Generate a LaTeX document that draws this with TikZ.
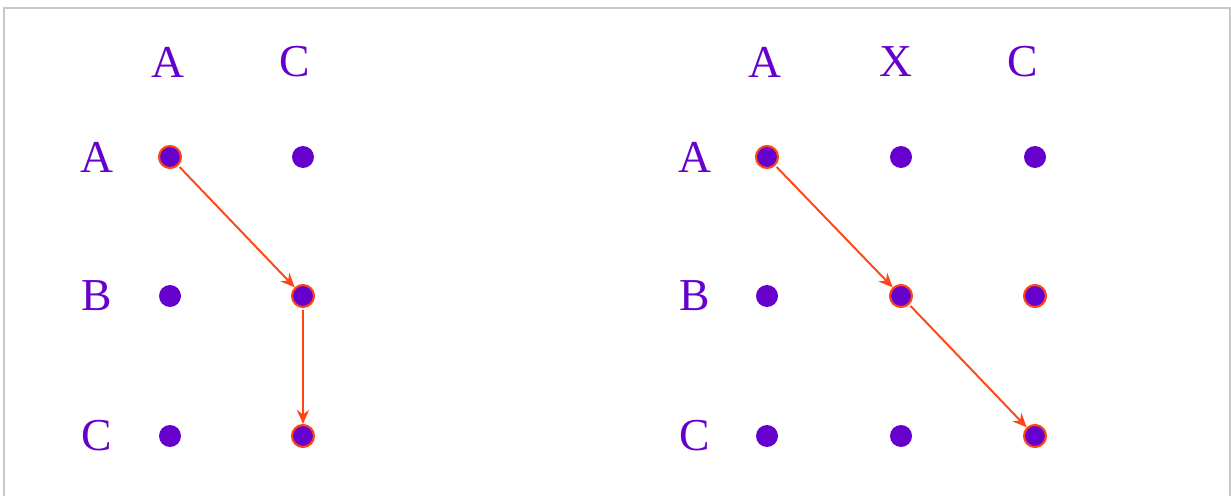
\documentclass[tikz,border=0pt]{standalone}
\usepackage{fontspec}
\setmainfont{Liberation Serif}
\definecolor{dotcol}{RGB}{102, 0, 204}
\definecolor{pathcol}{RGB}{255, 69, 20}
\definecolor{framecol}{RGB}{200, 200, 200}
\usetikzlibrary{arrows.meta, positioning}

\begin{document}
\begin{tikzpicture}[
        x=0.02cm, y=-0.02cm,
        lbl/.style={text=dotcol, font=\fontsize{26}{30}\selectfont, inner sep=0pt},
        pt/.style={circle, fill=dotcol, minimum size=0.44cm, inner sep=0pt},
        hit/.style={pt, draw=pathcol, line width=1.2pt},
        arr/.style={-{Stealth[length=8pt, width=7pt]}, pathcol, line width=1.1pt, shorten <=1pt}
    ]
    \useasboundingbox (0,0) rectangle (1231,496);
    \draw[framecol, line width=1pt] (4,496) -- (4,8) -- (1230,8) -- (1230,496);

    % left grid
    \node[lbl] (lcA) at (168,62) {A};
    \node[lbl] (lcC) at (295,62) {C};
    \node[lbl] (lrA) at (97,157) {A};
    \node[lbl] (lrB) at (97,296) {B};
    \node[lbl] (lrC) at (97,436) {C};
    \node[hit] (lAA) at (170,157) {};
    \node[pt]  (lAC) at (303,157) {};
    \node[pt]  (lBA) at (170,296) {};
    \node[hit] (lBC) at (303,296) {};
    \node[pt]  (lCA) at (170,436) {};
    \node[hit] (lCC) at (303,436) {};
    \draw[arr] (lAA) -- (lBC);
    \draw[arr] (lBC) -- (lCC);

    % right grid
    \node[lbl] (rcA) at (765,62) {A};
    \node[lbl] (rcX) at (896,62) {X};
    \node[lbl] (rcC) at (1023,62) {C};
    \node[lbl] (rrA) at (695,157) {A};
    \node[lbl] (rrB) at (695,296) {B};
    \node[lbl] (rrC) at (695,436) {C};
    \node[hit] (rAA) at (767,157) {};
    \node[pt]  (rAX) at (901,157) {};
    \node[pt]  (rAC) at (1035,157) {};
    \node[pt]  (rBA) at (767,296) {};
    \node[hit] (rBX) at (901,296) {};
    \node[hit] (rBC) at (1035,296) {};
    \node[pt]  (rCA) at (767,436) {};
    \node[pt]  (rCX) at (901,436) {};
    \node[hit] (rCC) at (1035,436) {};
    \draw[arr] (rAA) -- (rBX);
    \draw[arr] (rBX) -- (rCC);
\end{tikzpicture}
\end{document}
